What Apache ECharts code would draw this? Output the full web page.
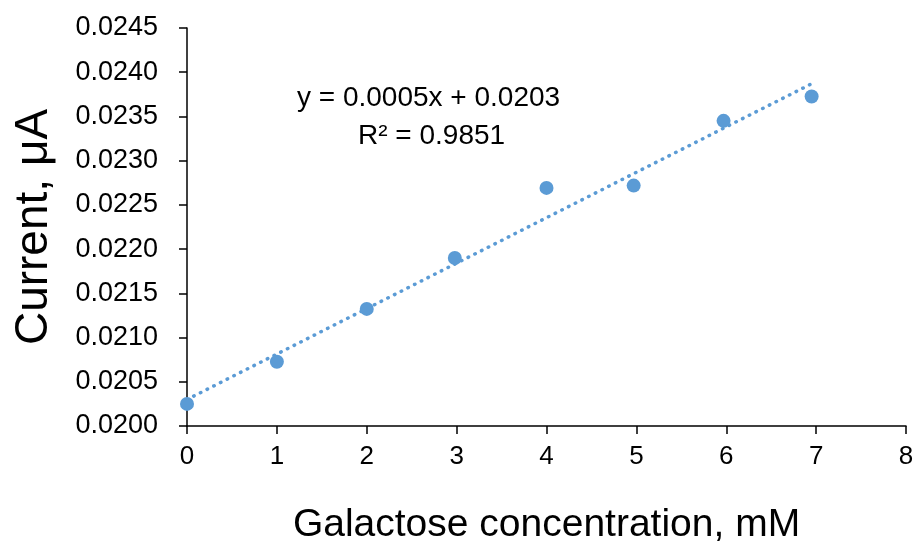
<!DOCTYPE html>
<html>
<head>
<meta charset="utf-8">
<script src="https://cdn.jsdelivr.net/npm/echarts@6/dist/echarts.min.js"></script>
<style>html,body{margin:0;padding:0;background:#fff}#c{width:913px;height:546px}</style>
</head>
<body>
<div id="c"></div>
<script>
var concentration = [0, 1, 2, 2.98, 4, 4.97, 5.97, 6.95];
var current = [0.02025, 0.020727, 0.021324, 0.0219, 0.022692, 0.022718, 0.02345, 0.023725];
var trendX = [0, 6.95];
var trendY = [0.02030, 0.02387];
var equationText = 'y = 0.0005x + 0.0203';
var r2Text = 'R² = 0.9851';
var xTitle = 'Galactose concentration, mM';
var yTitle = 'Current, μA';

var FONT = '"Liberation Sans", Arial, sans-serif';
var blue = '#5B9BD5';
var chart = echarts.init(document.getElementById('c'));
chart.setOption({
  animation: false,
  backgroundColor: '#fff',
  grid: {left: 187, right: 7, top: 28, bottom: 120, containLabel: false, outerBoundsMode: 'none'},
  xAxis: {
    type: 'value', min: 0, max: 8, interval: 1,
    name: xTitle, nameLocation: 'middle', nameGap: 80,
    nameTextStyle: {fontFamily: FONT, fontSize: 39, color: '#000'},
    axisLine: {lineStyle: {color: '#000', width: 1.5}},
    axisTick: {show: true, length: 8, lineStyle: {color: '#000', width: 1.5}},
    axisLabel: {fontFamily: FONT, fontSize: 26, color: '#000', margin: 18},
    splitLine: {show: false}
  },
  yAxis: {
    type: 'value', min: 0.02, max: 0.0245, interval: 0.0005,
    name: yTitle, nameLocation: 'middle', nameGap: 130,
    nameTextStyle: {fontFamily: FONT, fontSize: 46, color: '#000'},
    axisLine: {lineStyle: {color: '#000', width: 1.5}},
    axisTick: {show: true, length: 8, lineStyle: {color: '#000', width: 1.5}},
    axisLabel: {fontFamily: FONT, fontSize: 27, color: '#000', margin: 29,
      formatter: function (v) { return v.toFixed(4); }},
    splitLine: {show: false}
  },
  series: [
    {
      type: 'line',
      data: trendX.map(function (x, i) { return [x, trendY[i]]; }),
      symbol: 'none',
      lineStyle: {color: blue, width: 3.5, type: [0.5, 7], cap: 'round'},
      z: 1
    },
    {
      type: 'scatter',
      data: concentration.map(function (x, i) { return [x, current[i]]; }),
      symbol: 'circle', symbolSize: 14,
      itemStyle: {color: blue, opacity: 1},
      z: 2
    }
  ],
  graphic: [
    {type: 'text', left: 297, top: 84,
     style: {text: equationText, fontFamily: FONT, fontSize: 28, fill: '#000'}},
    {type: 'text', left: 358, top: 122,
     style: {text: r2Text, fontFamily: FONT, fontSize: 28, fill: '#000'}}
  ]
});
</script>
</body>
</html>
